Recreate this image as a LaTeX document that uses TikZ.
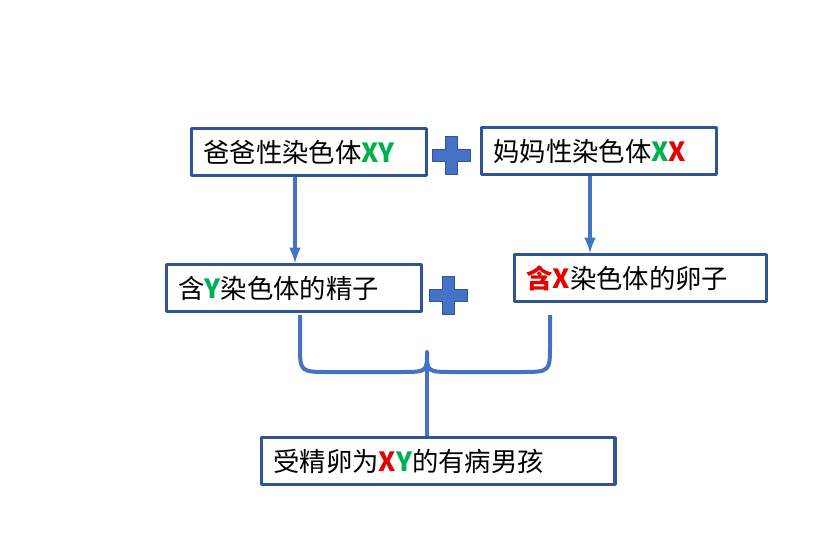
\documentclass[tikz,border=0pt]{standalone}
\usepackage{fontspec}
\setmainfont{Noto Sans CJK SC}
\definecolor{lineblue}{RGB}{68,114,196}
\definecolor{boxblue}{RGB}{47,85,151}
\definecolor{chgreen}{RGB}{0,176,80}
\definecolor{chred}{RGB}{230,0,0}
\newcommand{\gr}[1]{\textcolor{chgreen}{\bfseries #1}}
\newcommand{\rd}[1]{\textcolor{chred}{\bfseries #1}}
\begin{document}
\begin{tikzpicture}[x=0.3mm,y=-0.3mm,line join=round]
  \tikzstyle{infobox}=[draw=boxblue,line width=1mm,minimum height=14mm,inner xsep=3.5mm,align=left,font=\fontsize{22.5}{26}\selectfont,anchor=north west]
  \tikzstyle{link}=[draw=lineblue,line width=1.2mm]
  \tikzstyle{plus}=[fill=lineblue,draw=boxblue,line width=0.3mm]
  \useasboundingbox (0,0) rectangle (836,544);
  \node[infobox,text width=63.5mm] (dad) at (190,127) {爸爸性染色体\gr{XY}};
  \node[infobox,text width=63.5mm] (mom) at (480,126) {妈妈性染色体\gr{X}\rd{X}};
  \node[infobox,text width=69.5mm] (sperm) at (165,263) {含\gr{Y}染色体的精子};
  \node[infobox,text width=68.5mm] (egg) at (513,253) {\rd{含X}染色体的卵子};
  \node[infobox,text width=99mm] (child) at (260,436) {受精卵为\rd{X}\gr{Y}的有病男孩};
  % plus signs
  \foreach \cx/\cy in {451/155,448/295}
    \draw[plus] (\cx-19,\cy-6) -- (\cx-6,\cy-6) -- (\cx-6,\cy-19) -- (\cx+6,\cy-19) -- (\cx+6,\cy-6)
      -- (\cx+19,\cy-6) -- (\cx+19,\cy+6) -- (\cx+6,\cy+6) -- (\cx+6,\cy+19) -- (\cx-6,\cy+19)
      -- (\cx-6,\cy+6) -- (\cx-19,\cy+6) -- cycle;
  % arrows
  \draw[link,-latex] (dad.south -| 295,0) -- (sperm.north -| 295,0);
  \draw[link,-latex] (mom.south -| 590,0) -- (egg.north -| 590,0);
  % brace
  \coordinate (bl) at (300,315);
  \coordinate (br) at (550,315);
  \draw[link] (bl) -- (300,345) .. controls (300,372) .. (330,372) -- (400,372)
    .. controls (427,372) .. (427,352) .. controls (427,372) .. (454,372) -- (520,372)
    .. controls (550,372) .. (550,345) -- (br);
  \draw[link] (427,365) -- (child.north -| 427,0);
\end{tikzpicture}
\end{document}
